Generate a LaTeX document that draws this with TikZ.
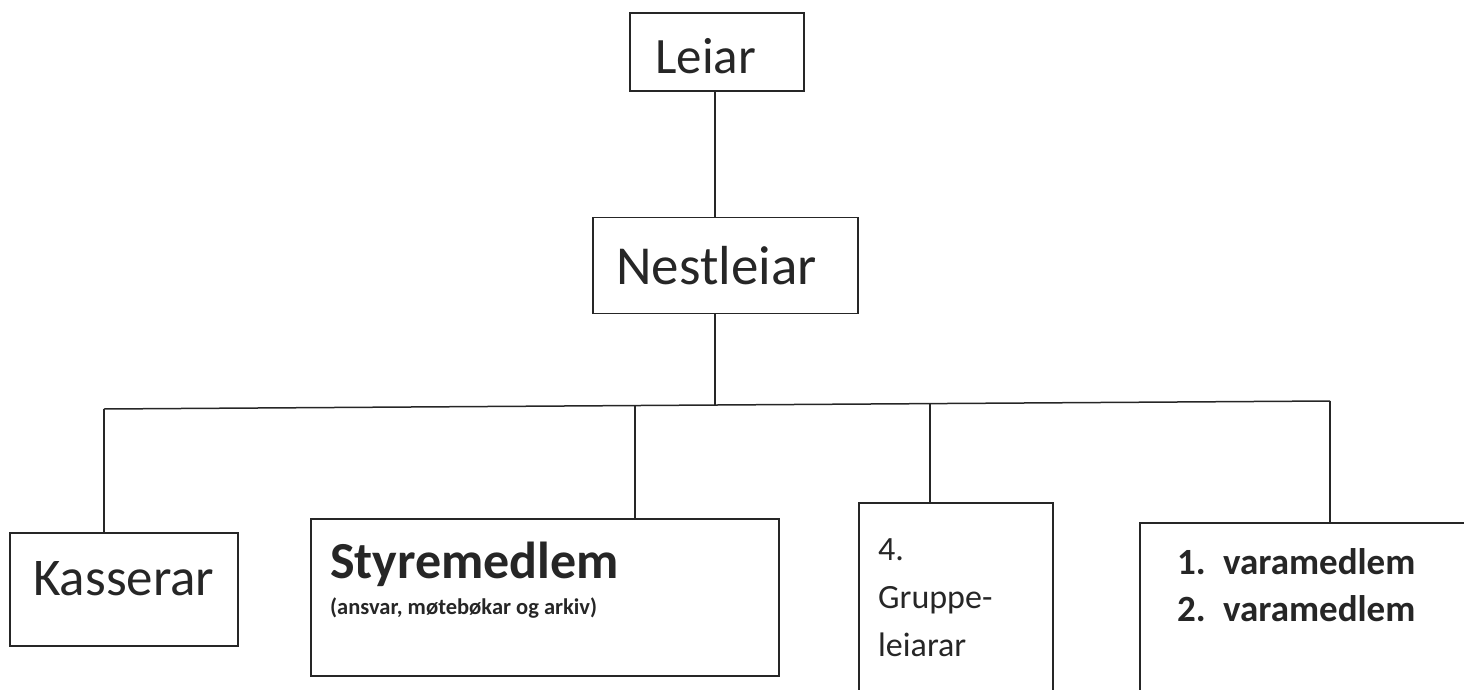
\documentclass[tikz,border=0pt]{standalone}
\usepackage{fontspec}
\setmainfont{Carlito}
\begin{document}
\begin{tikzpicture}[x=1pt,y=-1pt,
  box/.style={draw=black!85, line width=1.6pt, inner sep=0pt},
  conn/.style={draw=black!85, line width=1.5pt},
  lbl/.style={anchor=base west, inner sep=0pt, text=black!85}]
\useasboundingbox (0,0) rectangle (1464,690);
% boxes
\node[box, minimum width=174pt, minimum height=78pt] (leiar) at (717,52) {};
\node[box, minimum width=265pt, minimum height=96pt] (nest) at (725.5,265.5) {};
\node[box, minimum width=228pt, minimum height=113pt] (kass) at (124,589.5) {};
\node[box, minimum width=468pt, minimum height=157pt] (styre) at (545,597.5) {};
\node[box, minimum width=194pt, minimum height=200pt] (grp) at (956,603) {};
\node[box, minimum width=340pt, minimum height=180pt] (vara) at (1310,613) {};
% texts
\node[lbl, font=\fontsize{51}{60}\selectfont] (tleiar) at (655,74) {Leiar};
\node[lbl, font=\fontsize{55}{62}\selectfont] (tnest) at (616,284) {Nestleiar};
\node[lbl, font=\fontsize{53}{60}\selectfont] (tkass) at (33,595) {Kasserar};
\node[lbl, font=\fontsize{52}{60}\selectfont\bfseries] (tstyre) at (330,578) {Styremedlem};
\node[lbl, font=\fontsize{22.5}{25}\selectfont\bfseries] (tstyre2) at (330,614) {(ansvar, møtebøkar og arkiv)};
\node[lbl, font=\fontsize{34}{40}\selectfont] (tg1) at (878,560) {4.};
\node[lbl, font=\fontsize{34}{40}\selectfont] (tg2) at (878,608) {Gruppe-};
\node[lbl, font=\fontsize{34}{40}\selectfont] (tg3) at (878,656) {leiarar};
\node[lbl, font=\fontsize{37}{40}\selectfont\bfseries] (tv1n) at (1177,574) {1.};
\node[lbl, font=\fontsize{37}{40}\selectfont\bfseries] (tv1) at (1223,574) {varamedlem};
\node[lbl, font=\fontsize{37}{40}\selectfont\bfseries] (tv2n) at (1177,621) {2.};
\node[lbl, font=\fontsize{37}{40}\selectfont\bfseries] (tv2) at (1223,621) {varamedlem};
% bus coordinates
\coordinate (bl) at (104,409);
\coordinate (bm) at (715,405);
\coordinate (bs) at (635,406);
\coordinate (bg) at (930,404);
\coordinate (br) at (1330,401);
% connectors
\draw[conn] (leiar.south -| bm) -- (nest.north -| bm);
\draw[conn] (nest.south -| bm) -- (bm);
\draw[conn] (bl) -- (br);
\draw[conn] (bl) -- (kass.north -| bl);
\draw[conn] (bs) -- (styre.north -| bs);
\draw[conn] (bg) -- (grp.north -| bg);
\draw[conn] (br) -- (vara.north -| br);
\end{tikzpicture}
\end{document}
